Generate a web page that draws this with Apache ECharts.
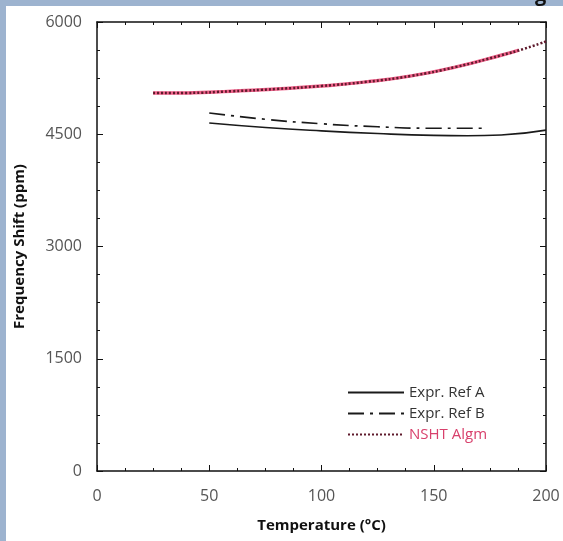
<!DOCTYPE html>
<html>
<head>
<meta charset="utf-8">
<script src="https://cdn.jsdelivr.net/npm/echarts@6/dist/echarts.min.js"></script>
<style>
  html, body { margin: 0; padding: 0; background: #fff; }
  #chart { width: 563px; height: 541px; }
</style>
</head>
<body>
<div id="chart"></div>
<script>
// values (temperature in °C, shift in ppm)
var refATemp = [50, 75, 100, 125, 150, 165, 180, 200];
var refAVal = [4650, 4590, 4545, 4510, 4485, 4480, 4490, 4555];

var refBTemp = [50, 75, 100, 125, 150, 172];
var refBVal = [4784, 4700, 4640, 4600, 4580, 4580];

var nshtTemp = [25, 40, 60, 80, 100, 120, 140, 160, 180, 190, 200];
var nshtVal = [5050, 5052, 5075, 5105, 5145, 5200, 5280, 5400, 5555, 5640, 5740];

// the pink band under the dots stops a bit before 200
var bandTemp = [25, 40, 60, 80, 100, 120, 140, 160, 180, 188];
var bandVal = [5050, 5052, 5075, 5105, 5145, 5200, 5280, 5400, 5555, 5625];

var xTicks = [0, 50, 100, 150, 200];
var yTicks = [0, 1500, 3000, 4500, 6000];

function pairs(xs, ys) {
    return xs.map(function (x, i) { return [x, ys[i]]; });
}

var chart = echarts.init(document.getElementById('chart'));

var fontFam = '"Open Sans", "DejaVu Sans", sans-serif';
var axisCommon = {
    axisLine: { onZero: false, lineStyle: { color: '#111', width: 1.5 } },
    axisTick: { inside: true, length: 6, lineStyle: { color: '#111', width: 1 } },
    minorTick: { show: true, splitNumber: 4, length: 3, lineStyle: { color: '#111', width: 1 } },
    splitLine: { show: false }
};

var option = {
    backgroundColor: '#fff',
    animation: false,
    textStyle: { fontFamily: fontFam },
    graphic: [
        { type: 'rect', shape: { x: 0, y: 0, width: 6, height: 541 }, style: { fill: '#9db3cf' } },
        { type: 'rect', shape: { x: 0, y: 0, width: 563, height: 6 }, style: { fill: '#9db3cf' } },
        { type: 'text', left: 535, top: -15, style: { text: 'g', font: 'bold 20px ' + fontFam, fill: '#111' } }
    ],
    grid: { left: 97, right: 17, top: 22, bottom: 70, containLabel: false },
    legend: {
        orient: 'vertical',
        left: 342,
        top: 380,
        itemWidth: 56,
        itemHeight: 12,
        itemGap: 6,
        itemStyle: { color: 'transparent', borderColor: 'transparent', opacity: 0 },
        textStyle: { fontSize: 15, color: '#333', fontFamily: fontFam },
        data: [
            { name: 'Expr. Ref A' },
            { name: 'Expr. Ref B' },
            { name: 'NSHT Algm', textStyle: { color: '#d8406c' } }
        ]
    },
    xAxis: [
        Object.assign({
            type: 'value', min: 0, max: 200, interval: 50, position: 'bottom',
            name: 'Temperature (°C)', nameLocation: 'middle', nameGap: 47,
            nameTextStyle: { fontSize: 15, fontWeight: 'bold', color: '#111', fontFamily: fontFam },
            axisLabel: { fontSize: 16, color: '#555', margin: 17,
                formatter: function (v) { return xTicks.indexOf(v) >= 0 ? String(v) : ''; } }
        }, axisCommon),
        Object.assign({
            type: 'value', min: 0, max: 200, interval: 50, position: 'top',
            axisLabel: { show: false }
        }, axisCommon)
    ],
    yAxis: [
        Object.assign({
            type: 'value', min: 0, max: 6000, interval: 1500, position: 'left',
            name: 'Frequency Shift (ppm)', nameLocation: 'middle', nameGap: 70,
            nameTextStyle: { fontSize: 15, fontWeight: 'bold', color: '#111', fontFamily: fontFam },
            axisLabel: { fontSize: 16, color: '#555', margin: 15,
                formatter: function (v) { return yTicks.indexOf(v) >= 0 ? String(v) : ''; } }
        }, axisCommon),
        Object.assign({
            type: 'value', min: 0, max: 6000, interval: 1500, position: 'right',
            axisLabel: { show: false }
        }, axisCommon)
    ],
    series: [
        {
            name: 'Expr. Ref A', type: 'line', symbol: 'none', smooth: true,
            data: pairs(refATemp, refAVal),
            lineStyle: { color: '#1a1a1a', width: 1.7 },
            itemStyle: { color: '#1a1a1a' }
        },
        {
            name: 'Expr. Ref B', type: 'line', symbol: 'none', smooth: true,
            data: pairs(refBTemp, refBVal),
            lineStyle: { color: '#1a1a1a', width: 1.7, type: [16, 6, 3, 6] },
            itemStyle: { color: '#1a1a1a' }
        },
        {
            name: 'band', type: 'line', symbol: 'none', smooth: true,
            data: pairs(bandTemp, bandVal),
            lineStyle: { color: '#e8386a', width: 3.5, opacity: 0.8 },
            itemStyle: { color: '#e8386a' },
            z: 2
        },
        {
            name: 'NSHT Algm', type: 'line', symbol: 'none', smooth: true,
            data: pairs(nshtTemp, nshtVal),
            lineStyle: { color: '#5e1a2c', width: 2.5, type: [2, 2] },
            itemStyle: { color: '#5e1a2c' },
            z: 3
        }
    ]
};

chart.setOption(option);
</script>
</body>
</html>
